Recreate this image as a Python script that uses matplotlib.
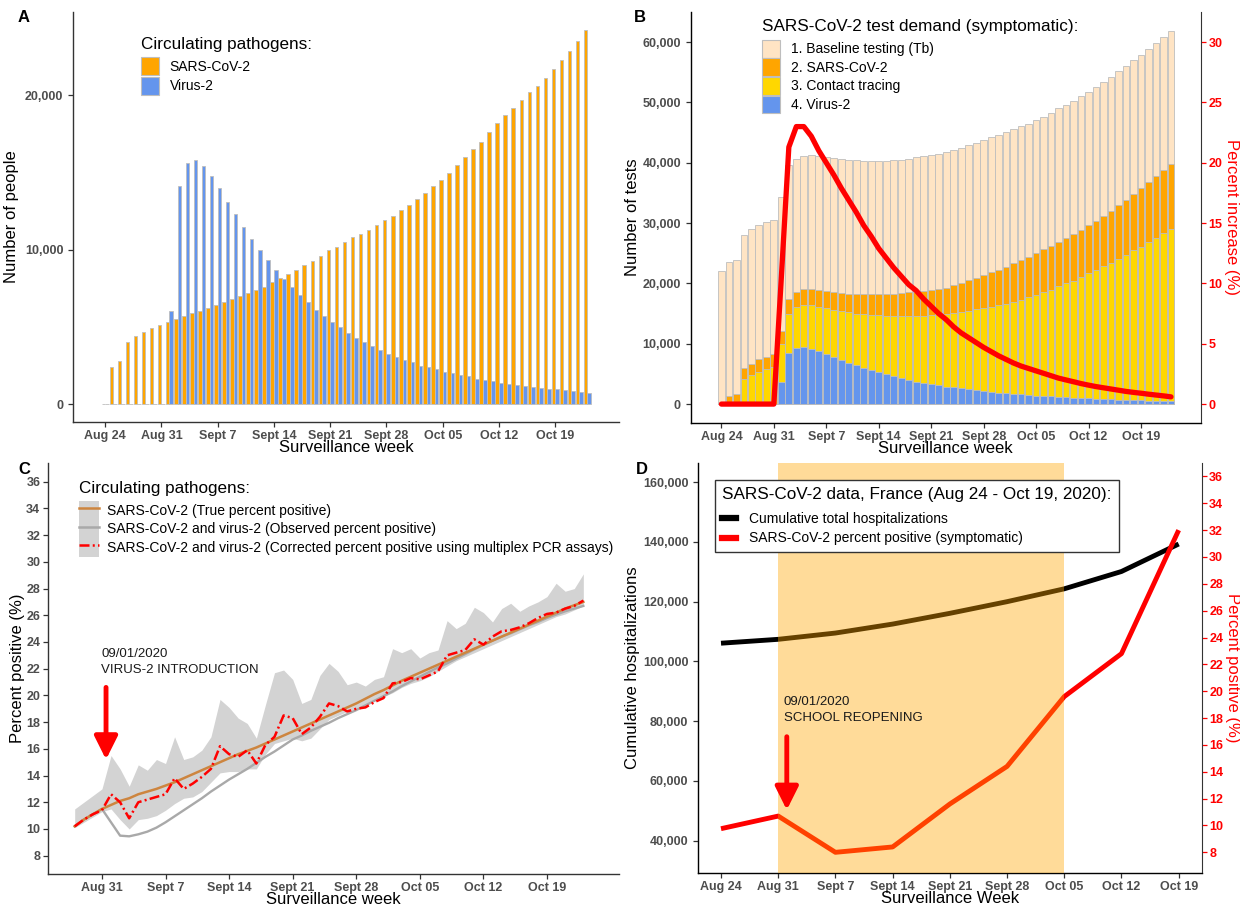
import numpy as np
import matplotlib
matplotlib.use('Agg')
import matplotlib.pyplot as plt
from matplotlib.patches import Patch
from matplotlib.lines import Line2D
from matplotlib.ticker import FuncFormatter

plt.rcParams['font.family'] = ['Liberation Sans', 'DejaVu Sans']

week_labels = ['Aug 24', 'Aug 31', 'Sept 7', 'Sept 14', 'Sept 21', 'Sept 28', 'Oct 05', 'Oct 12', 'Oct 19']

# ---- panel A: daily number of people (thousands), day 0 = Aug 24
sars_a = [0, 2.4, 2.8, 4.0, 4.4, 4.7, 4.9, 5.1, 5.3, 5.5, 5.7, 5.9, 6.0, 6.2, 6.4, 6.6, 6.8, 7.0, 7.2, 7.4,
          7.6, 7.9, 8.2, 8.4, 8.7, 9.0, 9.3, 9.6, 10.0, 10.2, 10.5, 10.8, 11.0, 11.3, 11.6, 11.9, 12.2, 12.6,
          12.9, 13.3, 13.7, 14.1, 14.5, 15.0, 15.5, 16.0, 16.5, 17.0, 17.6, 18.2, 18.7, 19.2, 19.7, 20.2,
          20.6, 21.1, 21.7, 22.3, 22.9, 23.5, 24.2]
virus_a = [0, 0, 0, 0, 0, 0, 0, 0, 6.0, 14.1, 15.6, 15.8, 15.4, 14.8, 14.0, 13.1, 12.3, 11.5, 10.7, 10.0,
           9.35, 8.7, 8.1, 7.6, 7.1, 6.6, 6.1, 5.7, 5.3, 5.0, 4.6, 4.3, 4.0, 3.76, 3.5, 3.26, 3.05, 2.85,
           2.7, 2.5, 2.4, 2.25, 2.1, 2.0, 1.9, 1.8, 1.65, 1.58, 1.5, 1.4, 1.3, 1.25, 1.2, 1.1, 1.05, 1.0,
           0.95, 0.9, 0.85, 0.8, 0.72]

# ---- panel B: test demand, cumulative stack tops (thousands)
total_b = [22.1, 23.5, 23.9, 28.1, 29.0, 29.6, 30.1, 30.5, 34.4, 39.7, 40.7, 41.2, 41.3, 41.2, 41.0, 40.8,
           40.6, 40.5, 40.4, 40.3, 40.3, 40.3, 40.3, 40.4, 40.5, 40.7, 40.9, 41.1, 41.3, 41.5, 41.8, 42.1,
           42.5, 43.0, 43.3, 43.8, 44.2, 44.6, 45.1, 45.6, 46.1, 46.5, 47.1, 47.6, 48.3, 49.0, 49.6, 50.3,
           51.0, 51.7, 52.5, 53.4, 54.3, 55.2, 56.0, 57.0, 57.9, 58.8, 59.9, 60.9, 61.9]
sars_top_b = [0, 1.4, 1.6, 5.9, 6.7, 7.4, 7.85, 8.3, 12.1, 17.4, 18.6, 19.0, 19.0, 18.95, 18.7, 18.6, 18.4,
              18.3, 18.3, 18.2, 18.2, 18.2, 18.2, 18.3, 18.4, 18.5, 18.65, 18.8, 18.95, 19.0, 19.3, 19.7,
              20.1, 20.6, 20.95, 21.4, 21.9, 22.3, 22.8, 23.3, 23.9, 24.4, 25.0, 25.7, 26.2, 26.8, 27.5,
              28.2, 28.9, 29.6, 30.4, 31.2, 32.0, 33.0, 33.8, 34.8, 35.8, 36.8, 37.8, 38.8, 39.8]
contact_top_b = [0, 0, 0, 4.2, 4.75, 5.3, 5.75, 6.2, 9.95, 15.0, 16.1, 16.5, 16.4, 16.1, 15.9, 15.6, 15.4,
                 15.2, 15.0, 14.9, 14.8, 14.7, 14.65, 14.6, 14.6, 14.6, 14.6, 14.65, 14.7, 14.9, 15.0, 15.1,
                 15.3, 15.5, 15.7, 15.9, 16.1, 16.4, 16.6, 16.9, 17.2, 17.7, 18.1, 18.5, 18.9, 19.5, 20.0,
                 20.45, 21.0, 21.7, 22.3, 22.9, 23.4, 24.1, 24.7, 25.5, 26.1, 26.8, 27.6, 28.3, 29.0]
virus_top_b = [0, 0, 0, 0, 0, 0, 0, 0, 3.6, 8.5, 9.35, 9.45, 9.2, 8.8, 8.35, 7.85, 7.3, 6.85, 6.4, 6.0,
               5.6, 5.3, 4.95, 4.6, 4.3, 4.0, 3.7, 3.5, 3.3, 3.1, 2.9, 2.75, 2.6, 2.45, 2.3, 2.15, 2.0, 1.9,
               1.8, 1.7, 1.6, 1.5, 1.4, 1.3, 1.25, 1.2, 1.1, 1.05, 1.0, 0.95, 0.9, 0.85, 0.8, 0.75, 0.7,
               0.65, 0.6, 0.57, 0.54, 0.5, 0.47]
pct_increase = [0, 0, 0, 0, 0, 0, 0, 0, 10.5, 21.3, 23.0, 23.0, 22.2, 21.0, 20.0, 19.0, 17.9, 16.9, 15.9,
                14.8, 13.9, 12.9, 12.1, 11.3, 10.6, 9.9, 9.4, 8.7, 8.1, 7.5, 7.0, 6.4, 5.9, 5.5, 5.1, 4.7,
                4.35, 4.0, 3.7, 3.4, 3.15, 2.95, 2.75, 2.55, 2.35, 2.15, 2.0, 1.85, 1.7, 1.57, 1.45, 1.35,
                1.25, 1.15, 1.05, 0.97, 0.9, 0.82, 0.75, 0.68, 0.6]

# ---- panel C: percent positive, days 4..60
days_c = list(range(4, 61))
true_pos = [10.2, 10.7, 11.1, 11.5, 11.8, 12.1, 12.3, 12.6, 12.8, 13.0, 13.25, 13.5, 13.8, 14.1, 14.4, 14.7,
            15.0, 15.3, 15.6, 15.85, 16.1, 16.4, 16.7, 17.0, 17.3, 17.6, 17.9, 18.2, 18.5, 18.8, 19.1, 19.4,
            19.75, 20.1, 20.4, 20.75, 21.1, 21.4, 21.7, 22.0, 22.3, 22.6, 22.9, 23.2, 23.5, 23.8, 24.1,
            24.4, 24.7, 25.0, 25.3, 25.6, 25.9, 26.2, 26.5, 26.75, 27.0]
observed_pos = [10.2, 10.7, 11.1, 11.5, 10.5, 9.5, 9.45, 9.6, 9.8, 10.1, 10.5, 10.95, 11.4, 11.85, 12.3,
                12.8, 13.25, 13.7, 14.1, 14.5, 14.95, 15.4, 15.8, 16.25, 16.7, 17.0, 17.35, 17.65, 17.95,
                18.3, 18.6, 18.9, 19.25, 19.6, 19.95, 20.3, 20.7, 21.05, 21.4, 21.75, 22.1, 22.4, 22.75,
                23.1, 23.45, 23.8, 24.1, 24.4, 24.65, 24.95, 25.25, 25.5, 25.8, 26.05, 26.3, 26.5, 26.7]
corrected_pos = [10.2, 10.7, 11.1, 11.4, 12.6, 12.0, 10.8, 12.0, 12.2, 12.4, 12.6, 13.8, 13.0, 13.4, 13.9,
                 14.5, 16.2, 15.6, 15.4, 15.9, 14.9, 16.3, 16.9, 18.5, 18.3, 17.1, 17.6, 18.4, 19.4, 19.2,
                 18.8, 19.0, 19.1, 19.5, 19.8, 20.9, 21.0, 21.3, 21.2, 21.5, 21.8, 23.0, 23.2, 23.4, 24.2,
                 23.8, 24.4, 24.8, 24.9, 25.1, 25.4, 25.8, 26.1, 26.2, 26.5, 26.7, 27.1]
ribbon_hi = [11.5, 12.0, 12.5, 13.0, 15.5, 14.5, 13.2, 14.8, 14.4, 15.2, 14.9, 16.9, 15.2, 15.4, 15.9, 16.9,
             19.7, 19.1, 18.3, 17.9, 16.8, 19.3, 21.7, 21.9, 21.2, 19.4, 19.7, 21.5, 22.4, 21.8, 20.8, 21.0,
             20.7, 21.2, 21.4, 23.5, 23.2, 23.5, 22.8, 23.2, 23.4, 25.6, 25.0, 25.4, 26.6, 26.2, 25.5, 26.5,
             26.9, 26.3, 26.7, 27.0, 27.4, 28.4, 27.8, 28.0, 29.1]
ribbon_lo = [10.1, 10.5, 10.9, 11.3, 11.5, 10.7, 10.0, 10.7, 10.8, 11.0, 11.4, 11.9, 12.3, 12.4, 12.8, 13.5,
             14.2, 14.3, 14.3, 14.5, 14.5, 15.6, 16.4, 16.6, 16.8, 16.6, 16.8, 17.5, 18.2, 18.5, 18.8, 19.0,
             19.3, 19.6, 19.9, 20.2, 20.6, 20.9, 21.1, 21.4, 21.8, 22.2, 22.6, 22.9, 23.2, 23.5, 23.8, 24.1,
             24.4, 24.7, 25.0, 25.3, 25.6, 25.9, 26.1, 26.4, 26.7]

# ---- panel D: France weekly data
hosp_d = [106.1, 107.4, 109.5, 112.5, 116.1, 120.0, 124.3, 130.1, 139.3]   # thousands
pctpos_d = [9.76, 10.7, 8.0, 8.4, 11.6, 14.4, 19.6, 22.8, 32.0]

ORANGE = '#FFA500'
BLUE = '#6495ED'
BISQUE = '#FFE4C4'
GOLD = '#FFD700'
EDGE = '#BEBEBE'
RED = '#FF0000'
TICKC = '#4D4D4D'
LEG_FS = 10
LEG_TITLE_FS = 12.3

fig = plt.figure(figsize=(12.4, 9.07), dpi=100)
axA = fig.add_axes([0.0589, 0.5347, 0.4401, 0.4521])
axB = fig.add_axes([0.557, 0.5336, 0.4115, 0.4532])
axC = fig.add_axes([0.0387, 0.0364, 0.4603, 0.4531])
axD = fig.add_axes([0.563, 0.0375, 0.406, 0.452])

thousands = FuncFormatter(lambda v, p: f'{v:,.0f}')


def style(ax, right=False):
    ax.spines['top'].set_visible(False)
    ax.spines['right'].set_visible(right)
    for s in ax.spines.values():
        s.set_color('#333333')
        s.set_linewidth(1.0)
    ax.tick_params(colors='#333333', labelcolor=TICKC, labelsize=9, length=3.5, width=0.9)
    ax.tick_params(axis='x', pad=2)
    for lab in ax.get_xticklabels() + ax.get_yticklabels():
        lab.set_fontweight('bold')


def right_axis(ax, label):
    ax.spines['top'].set_visible(False)
    ax.spines['right'].set_color('#333333')
    ax.tick_params(axis='y', colors=RED, labelcolor=RED, labelsize=9, length=3.5, width=0.9, pad=2)
    for lab in ax.get_yticklabels():
        lab.set_fontweight('bold')
    ax.set_ylabel(label, color=RED, fontsize=12, rotation=270, labelpad=12)


def key_legend(ax, handles, labels, title, anchor, title_gap=4, **kw):
    opts = dict(loc='upper left', bbox_to_anchor=anchor, frameon=False, fontsize=LEG_FS,
                title_fontsize=LEG_TITLE_FS, handlelength=1.3, handleheight=1.6, labelspacing=0.1,
                handletextpad=0.75, borderpad=0, borderaxespad=0, alignment='left')
    opts.update(kw)
    leg = ax.legend(handles, labels, title=title, **opts)
    leg._legend_box.sep = title_gap   # gap between title and keys, in points
    return leg


days = np.arange(len(sars_a))
week_days = np.arange(0, 57, 7)

# ---------------- A
axA.bar(days - 0.225, np.array(sars_a) * 1000, width=0.45, color=ORANGE, edgecolor=EDGE, linewidth=0.6)
axA.bar(days + 0.225, np.array(virus_a) * 1000, width=0.45, color=BLUE, edgecolor=EDGE, linewidth=0.6)
axA.set_xlim(-4.0, 63.9)
axA.set_ylim(-1160, 25400)
axA.set_xticks(week_days, week_labels)
axA.set_yticks([0, 10000, 20000])
axA.yaxis.set_major_formatter(thousands)
axA.set_xlabel('Surveillance week', fontsize=12, labelpad=-1)
axA.set_ylabel('Number of people', fontsize=12, labelpad=4)
style(axA)
key_legend(axA, [Patch(fc=ORANGE, ec=EDGE, lw=0.8), Patch(fc=BLUE, ec=EDGE, lw=0.8)],
           ['SARS-CoV-2', 'Virus-2'], 'Circulating pathogens:', (0.125, 0.94), labelspacing=0.14)

# ---------------- B
for tops, col in [(total_b, BISQUE), (sars_top_b, ORANGE), (contact_top_b, GOLD), (virus_top_b, BLUE)]:
    axB.bar(days, np.array(tops) * 1000, width=0.9, color=col, edgecolor=EDGE, linewidth=0.6)
axB.set_xlim(-4.1, 64.0)
axB.set_ylim(-3150, 65000)
axB.set_xticks(week_days, week_labels)
axB.set_yticks(np.arange(0, 60001, 10000))
axB.yaxis.set_major_formatter(thousands)
axB.set_xlabel('Surveillance week', fontsize=12, labelpad=-1)
axB.set_ylabel('Number of tests', fontsize=12, labelpad=2)
style(axB)
key_legend(axB, [Patch(fc=c, ec=EDGE, lw=0.8) for c in [BISQUE, ORANGE, GOLD, BLUE]],
           ['1. Baseline testing (Tb)', '2. SARS-CoV-2', '3. Contact tracing', '4. Virus-2'],
           'SARS-CoV-2 test demand (symptomatic):', (0.14, 0.982), labelspacing=0.05)
axB2 = axB.twinx()
axB2.plot(days, pct_increase, color=RED, lw=3.8, solid_joinstyle='round', solid_capstyle='round')
axB2.set_ylim(-1.57, 32.5)
axB2.set_yticks(np.arange(0, 31, 5))
right_axis(axB2, 'Percent increase (%)')

# ---------------- C
axC.fill_between(days_c, ribbon_lo, ribbon_hi, color='#D3D3D3', lw=0)
axC.plot(days_c, observed_pos, color='#A9A9A9', lw=1.7)
axC.plot(days_c, true_pos, color='#CD853F', lw=1.8)
axC.plot(days_c, corrected_pos, color=RED, lw=1.8, dashes=(4, 1.3, 0.8, 1.3))
axC.set_xlim(1.06, 63.9)
axC.set_ylim(6.63, 37.4)
axC.set_xticks(week_days[1:], week_labels[1:])
axC.set_yticks(np.arange(8, 37, 2))
axC.set_xlabel('Surveillance week', fontsize=12, labelpad=-1)
axC.set_ylabel('Percent positive (%)', fontsize=12, labelpad=1)
style(axC)
axC.tick_params(axis='y', pad=2)
rib = Patch(fc='#D3D3D3', ec='none')
key_legend(axC, [(rib, Line2D([], [], color='#CD853F', lw=1.8)),
                 (rib, Line2D([], [], color='#A9A9A9', lw=1.8)),
                 (rib, Line2D([], [], color=RED, lw=1.8, dashes=(4, 1.3, 0.8, 1.3)))],
           ['SARS-CoV-2 (True percent positive)',
            'SARS-CoV-2 and virus-2 (Observed percent positive)',
            'SARS-CoV-2 and virus-2 (Corrected percent positive using multiplex PCR assays)'],
           'Circulating pathogens:', (0.055, 0.957), handlelength=1.4, handleheight=1.67,
           labelspacing=0.0, handletextpad=0.6)
axC.text(6.9, 23.1, '09/01/2020', fontsize=9.5, va='center', color='#1A1A1A')
axC.text(6.9, 21.9, 'VIRUS-2 INTRODUCTION', fontsize=9.5, va='center', color='#1A1A1A')
axC.annotate('', xy=(7.45, 15.2), xytext=(7.45, 20.6),
             arrowprops=dict(arrowstyle='-|>,head_width=0.35,head_length=0.7', lw=3.5, color=RED,
                             shrinkA=0, shrinkB=0, mutation_scale=20))

# ---------------- D
weeks = np.arange(len(hosp_d))
axD.plot(weeks, np.array(hosp_d) * 1000, color='black', lw=3.5, solid_capstyle='butt')
axD.set_xlim(-0.4, 8.4)
axD.set_ylim(29200, 166400)
axD.set_xticks(weeks, week_labels)
axD.set_yticks(np.arange(40000, 160001, 20000))
axD.yaxis.set_major_formatter(thousands)
axD.set_xlabel('Surveillance Week', fontsize=12, labelpad=-1)
axD.set_ylabel('Cumulative hospitalizations', fontsize=12, labelpad=2)
style(axD)
axD2 = axD.twinx()
axD2.plot(weeks, pctpos_d, color=RED, lw=3.5, solid_capstyle='butt')
axD2.set_ylim(6.46, 37.0)
axD2.set_yticks(np.arange(8, 37, 2))
right_axis(axD2, 'Percent positive (%)')
axD2.axvspan(1, 6, color=ORANGE, alpha=0.4, lw=0, zorder=5)
axD2.text(1.1, 86500, '09/01/2020', transform=axD.transData, fontsize=9.5, va='center',
          color='#1A1A1A', zorder=6)
axD2.text(1.1, 81000, 'SCHOOL REOPENING', transform=axD.transData, fontsize=9.5, va='center',
          color='#1A1A1A', zorder=6)
axD2.annotate('', xy=(1.15, 50300), xytext=(1.15, 74800), xycoords=axD.transData,
              textcoords=axD.transData,
              arrowprops=dict(arrowstyle='-|>,head_width=0.35,head_length=0.7', lw=3.5, color=RED,
                              shrinkA=0, shrinkB=0, mutation_scale=20), zorder=6)
legD = key_legend(axD2, [Line2D([], [], color='black', lw=4.5), Line2D([], [], color=RED, lw=4.5)],
                  ['Cumulative total hospitalizations', 'SARS-CoV-2 percent positive (symptomatic)'],
                  'SARS-CoV-2 data, France (Aug 24 - Oct 19, 2020):', (0.034, 0.958), title_gap=7,
                  frameon=True, fancybox=False, handlelength=1.0, handleheight=0.7, labelspacing=0.4,
                  handletextpad=0.9, borderpad=0.5, framealpha=1)
legD.get_frame().set_edgecolor('#333333')
legD.get_frame().set_linewidth(1.0)
legD.set_zorder(10)

for lbl, x, y in [('A', 18, 18), ('B', 634, 18), ('C', 18, 470), ('D', 636, 470)]:
    fig.text(x / 1240, 1 - y / 907, lbl, fontsize=12, fontweight='bold', va='center', ha='left')

fig.savefig('out.png', dpi=100)
